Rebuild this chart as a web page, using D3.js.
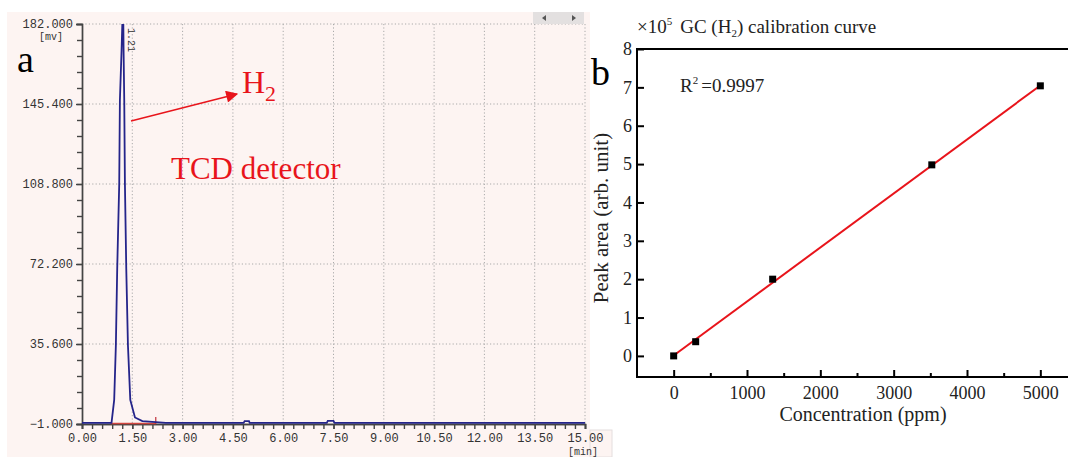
<!DOCTYPE html>
<html>
<head>
<meta charset="utf-8">
<script src="https://cdn.jsdelivr.net/npm/d3@7"></script>
<style>
  body { margin: 0; background: #fff; }
  svg { display: block; }
</style>
</head>
<body>
<script>
// panel a: chromatogram trace (min, mV)
var traceTime = [0, 0.88, 0.96, 1.01, 1.05, 1.11, 1.13, 1.18, 1.21, 1.23, 1.24, 1.26, 1.28, 1.32, 1.37, 1.44, 1.58, 1.8, 2.3, 2.5, 4.82, 4.85, 4.98, 5.0, 7.3, 7.33, 7.5, 7.53, 15]
var traceMv = [-0.5, -0.5, 10, 35, 70, 108.8, 147, 170, 186, 186, 170, 147, 108.8, 70, 35, 10, 2, 0.3, -0.3, -0.5, -0.5, 0.3, 0.3, -0.5, -0.5, 0.4, 0.4, -0.5, -0.5]
var aYTicks = [-1, 35.6, 72.2, 108.8, 145.4, 182]
var aXTicks = [0, 1.5, 3, 4.5, 6, 7.5, 9, 10.5, 12, 13.5, 15]

// panel b: calibration points
var concPpm = [0, 300, 1350, 3520, 5000]
var peakArea = [0, 0.37, 2.0, 4.98, 7.04]
var fitX = [0, 5000]
var fitY = [0.01, 7.05]
var bXTicks = [0, 1000, 2000, 3000, 4000, 5000]
var bXMinor = [500, 1500, 2500, 3500, 4500]
var bYTicks = [0, 1, 2, 3, 4, 5, 6, 7, 8]

var svg = d3.select('body').append('svg')
  .attr('width', 1068)
  .attr('height', 457)

// ---------- panel a ----------
var pink = '#fdf4f2'
svg.append('rect').attr('x', 7).attr('y', 12).attr('width', 583).attr('height', 445).attr('fill', pink)
svg.append('rect').attr('x', 590).attr('y', 430).attr('width', 22).attr('height', 27).attr('fill', pink)
  .attr('stroke', '#e4dede')

var xA = d3.scaleLinear().domain([0, 15]).range([82, 585])
var yA = d3.scaleLinear().domain([-1, 182]).range([424, 24])

var gA = svg.append('g')

// grid
gA.selectAll('.vg').data(aXTicks.slice(1)).enter().append('line')
  .attr('x1', d => xA(d)).attr('x2', d => xA(d))
  .attr('y1', yA(182)).attr('y2', yA(-1))
  .attr('stroke', '#aaa').attr('stroke-dasharray', '1.2,2.2')
gA.selectAll('.hg').data(aYTicks.slice(1)).enter().append('line')
  .attr('x1', xA(0)).attr('x2', xA(15))
  .attr('y1', d => yA(d)).attr('y2', d => yA(d))
  .attr('stroke', '#aaa').attr('stroke-dasharray', '1.2,2.2')

// scroll widget
svg.append('rect').attr('x', 533).attr('y', 12).attr('width', 51).attr('height', 12).attr('fill', '#e3e0e0')
svg.append('path').attr('d', 'M542,18 L546,15 L546,21 Z').attr('fill', '#555')
svg.append('path').attr('d', 'M576,18 L572,15 L572,21 Z').attr('fill', '#555')

// minor ticks
var yMinor = d3.range(0, 26).map(i => -1 + i * 7.32)
var xMinor = d3.range(0, 51).map(i => i * 0.3)
gA.append('g').attr('transform', 'translate(82,0)')
  .call(d3.axisLeft(yA).tickValues(yMinor).tickSize(5).tickFormat(''))
gA.append('g').attr('transform', 'translate(0,424)')
  .call(d3.axisBottom(xA).tickValues(xMinor).tickSize(5).tickFormat(''))

gA.append('g').attr('transform', 'translate(82,0)')
  .call(d3.axisLeft(yA).tickValues(aYTicks).tickSize(6).tickPadding(3).tickFormat(d3.format('.3f')))
gA.append('g').attr('transform', 'translate(0,424)')
  .call(d3.axisBottom(xA).tickValues(aXTicks).tickSize(5).tickPadding(4).tickFormat(d3.format('.2f')))
gA.selectAll('.domain, .tick line').attr('stroke', '#444').attr('stroke-width', 1.4)
gA.selectAll('.tick text').attr('font-family', 'Liberation Mono').attr('font-size', 12).attr('fill', '#333')

gA.append('text').attr('x', 51).attr('y', 40).attr('text-anchor', 'middle')
  .attr('font-family', 'Liberation Mono').attr('font-size', 10).attr('fill', '#333').text('[mv]')
gA.append('text').attr('x', 583).attr('y', 455).attr('text-anchor', 'middle')
  .attr('font-family', 'Liberation Mono').attr('font-size', 10).attr('fill', '#333').text('[min]')

// baseline marker
gA.append('line').attr('x1', xA(0.85)).attr('x2', xA(2.2)).attr('y1', 423.5).attr('y2', 423.5)
  .attr('stroke', '#d2453f').attr('stroke-width', 1.5)
gA.append('line').attr('x1', xA(2.2)).attr('x2', xA(2.2)).attr('y1', 417).attr('y2', 424)
  .attr('stroke', '#c0303a').attr('stroke-width', 1.2)

svg.append('clipPath').attr('id', 'clipA').append('rect')
  .attr('x', 82).attr('y', 24).attr('width', 503).attr('height', 401)
var trace = traceTime.map((t, i) => [t, traceMv[i]])
gA.append('path').datum(trace)
  .attr('clip-path', 'url(#clipA)')
  .attr('d', d3.line().x(d => xA(d[0])).y(d => yA(d[1])))
  .attr('fill', 'none').attr('stroke', '#24248a').attr('stroke-width', 1.8)

gA.append('text').attr('transform', 'translate(128,28) rotate(90)')
  .attr('font-family', 'Liberation Mono').attr('font-size', 10).attr('fill', '#333').text('1.21')

// annotations
gA.append('text').attr('x', 17).attr('y', 72).attr('font-family', 'Liberation Serif')
  .attr('font-size', 38).attr('fill', '#000').text('a')
svg.append('defs').append('marker').attr('id', 'arr').attr('viewBox', '0 0 10 10')
  .attr('refX', 9).attr('refY', 5).attr('markerWidth', 14).attr('markerHeight', 12)
  .attr('orient', 'auto').attr('markerUnits', 'userSpaceOnUse')
  .append('path').attr('d', 'M0,0 L10,5 L0,10 Z').attr('fill', '#e8141b')
gA.append('line').attr('x1', 131).attr('y1', 121).attr('x2', 237).attr('y2', 94)
  .attr('stroke', '#e8141b').attr('stroke-width', 1.4).attr('marker-end', 'url(#arr)')
var h2 = gA.append('text').attr('x', 242).attr('y', 93).attr('font-family', 'Liberation Serif')
  .attr('font-size', 32).attr('fill', '#e8141b')
h2.append('tspan').text('H')
h2.append('tspan').attr('font-size', 22).attr('dy', 8).text('2')
gA.append('text').attr('x', 171).attr('y', 179).attr('font-family', 'Liberation Serif')
  .attr('font-size', 31).attr('fill', '#e8141b').text('TCD detector')

// ---------- panel b ----------
var xB = d3.scaleLinear().domain([-500, 5500]).range([637, 1077])
var yB = d3.scaleLinear().domain([-0.55, 8]).range([377, 49])
var gB = svg.append('g')

gB.append('g').attr('transform', 'translate(0,377)')
  .call(d3.axisBottom(xB).tickValues(bXMinor).tickSizeInner(-4).tickSizeOuter(0).tickFormat(''))
gB.append('g').attr('transform', 'translate(0,377)')
  .call(d3.axisBottom(xB).tickValues(bXTicks).tickSizeInner(-7).tickSizeOuter(0).tickPadding(9)
    .tickFormat(d3.format('d')))
gB.append('g').attr('transform', 'translate(637,0)')
  .call(d3.axisLeft(yB).tickValues(bYTicks).tickSizeInner(-7).tickSizeOuter(0).tickPadding(5))
gB.selectAll('.domain').remove()
gB.selectAll('.tick line').attr('stroke', '#000').attr('stroke-width', 2)
gB.selectAll('.tick text').attr('font-family', 'Liberation Serif').attr('font-size', 18).attr('fill', '#222')

// frame
gB.append('path').attr('d', 'M1068,49 H637 V377 H1068')
  .attr('fill', 'none').attr('stroke', '#000').attr('stroke-width', 2)

gB.append('path').datum(fitX.map((v, i) => [v, fitY[i]]))
  .attr('d', d3.line().x(d => xB(d[0])).y(d => yB(d[1])))
  .attr('stroke', '#e8141b').attr('stroke-width', 2).attr('fill', 'none')

gB.selectAll('.pt').data(concPpm).enter().append('rect')
  .attr('x', (d, i) => xB(d) - 3.5).attr('y', (d, i) => yB(peakArea[i]) - 3.5)
  .attr('width', 7).attr('height', 7).attr('fill', '#000')

// labels
var title = gB.append('text').attr('x', 637).attr('y', 33).attr('font-family', 'Liberation Serif')
  .attr('font-size', 19).attr('fill', '#222')
title.append('tspan').text('×10')
title.append('tspan').attr('font-size', 11).attr('dy', -8).text('5')
title.append('tspan').attr('dy', 8).attr('dx', 8).text('GC (H')
title.append('tspan').attr('font-size', 11).attr('dy', 4).text('2')
title.append('tspan').attr('dy', -4).text(') calibration curve')

var r2 = gB.append('text').attr('x', 680).attr('y', 92).attr('font-family', 'Liberation Serif')
  .attr('font-size', 19).attr('fill', '#222')
r2.append('tspan').text('R')
r2.append('tspan').attr('font-size', 11).attr('dy', -8).text('2')
r2.append('tspan').attr('dy', 8).attr('dx', 3).text('=0.9997')

gB.append('text').attr('x', 863).attr('y', 421).attr('text-anchor', 'middle')
  .attr('font-family', 'Liberation Serif').attr('font-size', 20).attr('fill', '#222')
  .text('Concentration (ppm)')
gB.append('text').attr('transform', 'translate(608,218) rotate(-90)').attr('text-anchor', 'middle')
  .attr('font-family', 'Liberation Serif').attr('font-size', 21).attr('fill', '#222')
  .text('Peak area (arb. unit)')
gB.append('text').attr('x', 591).attr('y', 85).attr('font-family', 'Liberation Serif')
  .attr('font-size', 38).attr('fill', '#000').text('b')
</script>
</body>
</html>
